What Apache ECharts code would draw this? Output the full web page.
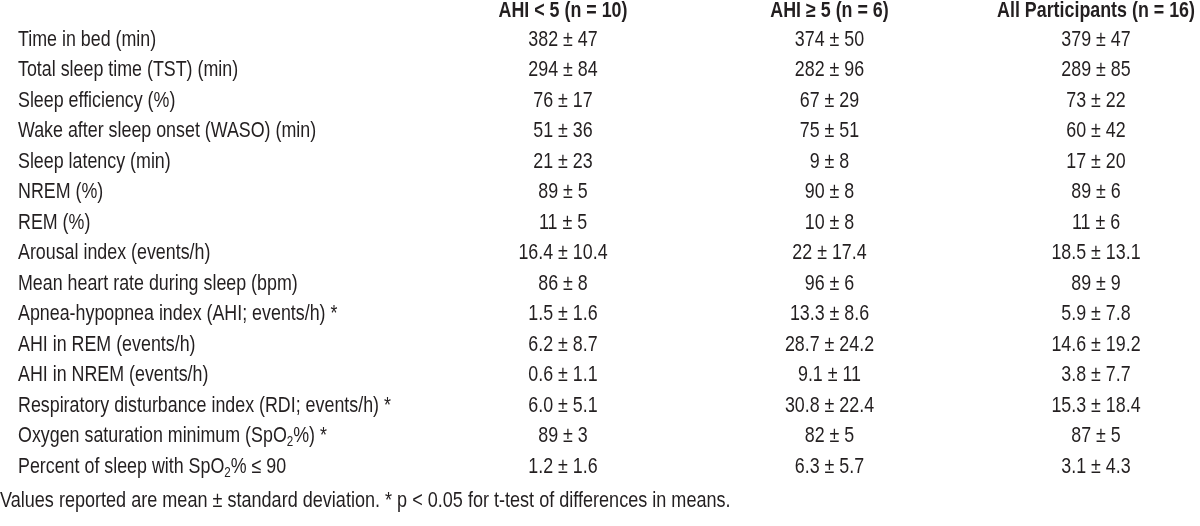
<!DOCTYPE html>
<html><head><meta charset="utf-8">
<script src="https://cdn.jsdelivr.net/npm/echarts@6/dist/echarts.min.js"></script>
<style>html,body{margin:0;padding:0;background:#fff}#c{width:1200px;height:526px}</style>
</head><body><div id="c"></div>
<script>
const columns = ['AHI < 5 (n = 10)', 'AHI \u2265 5 (n = 6)', 'All Participants (n = 16)'];
const rows = ['Time in bed (min)', 'Total sleep time (TST) (min)', 'Sleep efficiency (%)', 'Wake after sleep onset (WASO) (min)', 'Sleep latency (min)', 'NREM (%)', 'REM (%)', 'Arousal index (events/h)', 'Mean heart rate during sleep (bpm)', 'Apnea-hypopnea index (AHI; events/h) *', 'AHI in REM (events/h)', 'AHI in NREM (events/h)', 'Respiratory disturbance index (RDI; events/h) *', 'Oxygen saturation minimum (SpO2%) *', 'Percent of sleep with SpO2% \u2264 90'];
const ahiLow = ['382 \u00b1 47','294 \u00b1 84','76 \u00b1 17','51 \u00b1 36','21 \u00b1 23','89 \u00b1 5','11 \u00b1 5','16.4 \u00b1 10.4','86 \u00b1 8','1.5 \u00b1 1.6','6.2 \u00b1 8.7','0.6 \u00b1 1.1','6.0 \u00b1 5.1','89 \u00b1 3','1.2 \u00b1 1.6'];
const ahiHigh = ['374 \u00b1 50','282 \u00b1 96','67 \u00b1 29','75 \u00b1 51','9 \u00b1 8','90 \u00b1 8','10 \u00b1 8','22 \u00b1 17.4','96 \u00b1 6','13.3 \u00b1 8.6','28.7 \u00b1 24.2','9.1 \u00b1 11','30.8 \u00b1 22.4','82 \u00b1 5','6.3 \u00b1 5.7'];
const allParticipants = ['379 \u00b1 47','289 \u00b1 85','73 \u00b1 22','60 \u00b1 42','17 \u00b1 20','89 \u00b1 6','11 \u00b1 6','18.5 \u00b1 13.1','89 \u00b1 9','5.9 \u00b1 7.8','14.6 \u00b1 19.2','3.8 \u00b1 7.7','15.3 \u00b1 18.4','87 \u00b1 5','3.1 \u00b1 4.3'];
const footnote = 'Values reported are mean \u00b1 standard deviation. * p < 0.05 for t-test of differences in means.';

const FONT = "'Liberation Sans', Arial, sans-serif";
const FS = 21.5;
const SX = 0.83;
const COLOR = '#231f20';
const LABEL_X = 18;
const HEADER_OFFSET = 29;
const cellColumns = [ahiLow, ahiHigh, allParticipants];
const RICH = {sub: {fontFamily: FONT, fontSize: 14, fill: COLOR, verticalAlign: 'bottom', lineHeight: 14}};

function txt(x, y, text, align, bold) {
  return {
    type: 'text', x: x, y: y, scaleX: SX,
    style: {
      text: text, fill: COLOR, fontFamily: FONT, fontSize: FS,
      fontWeight: bold ? 'bold' : 'normal', lineHeight: 26,
      align: align, verticalAlign: 'middle', rich: RICH
    }
  };
}

const chart = echarts.init(document.getElementById('c'), null, {renderer: 'canvas'});
chart.setOption({
  backgroundColor: '#ffffff',
  animation: false,
  grid: {left: 563, right: 104, top: 40, bottom: 59, containLabel: false, outerBoundsMode: 'none'},
  xAxis: {
    type: 'category', data: columns, boundaryGap: false, show: false
  },
  yAxis: {
    type: 'category', data: rows, inverse: true, boundaryGap: false, show: false
  },
  graphic: [{
    type: 'text', x: 0, y: 501, scaleX: 0.84,
    style: {text: footnote, fill: COLOR, fontFamily: FONT, fontSize: FS, align: 'left', verticalAlign: 'middle'}
  }],
  series: [
    {
      type: 'custom', silent: true, clip: false,
      data: rows.map((r, i) => [0, i]),
      renderItem: (params, api) => {
        const p = api.coord([api.value(0), api.value(1)]);
        return txt(LABEL_X, p[1], rows[params.dataIndex].replace(/SpO2/g, 'SpO{sub|2}'), 'left', false);
      }
    },
    {
      type: 'custom', silent: true, clip: false,
      data: columns.map((c, i) => [i, 0]),
      renderItem: (params, api) => {
        const p = api.coord([api.value(0), api.value(1)]);
        return txt(p[0], p[1] - HEADER_OFFSET, columns[params.dataIndex], 'center', true);
      }
    }
  ].concat(cellColumns.map((col, c) => ({
    type: 'custom', silent: true, clip: false,
    data: col.map((t, r) => [c, r]),
    renderItem: (params, api) => {
      const p = api.coord([api.value(0), api.value(1)]);
      return txt(p[0], p[1], col[params.dataIndex], 'center', false);
    }
  })))
});
</script></body></html>
